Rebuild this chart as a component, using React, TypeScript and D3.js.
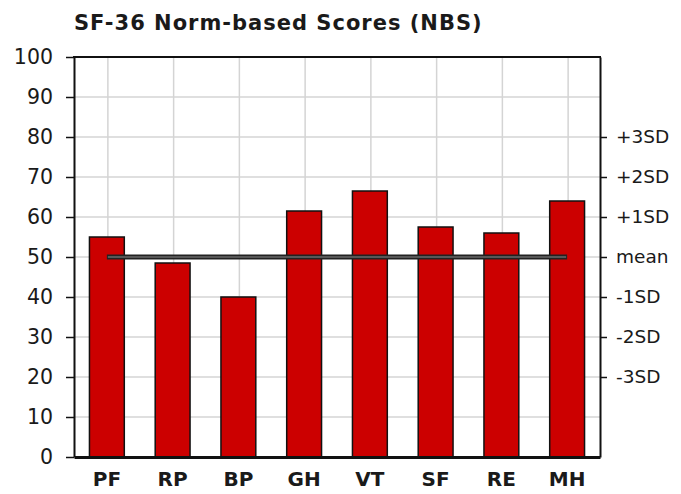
import * as d3 from "d3";
import { useRef, useEffect } from "react";

const categories = ["PF", "RP", "BP", "GH", "VT", "SF", "RE", "MH"];
const scores = [55, 48.5, 40, 61.5, 66.5, 57.5, 56, 64];
const leftTicks = [0, 10, 20, 30, 40, 50, 60, 70, 80, 90, 100];
const sdTicks = [20, 30, 40, 50, 60, 70, 80];
const sdLabels = ["-3SD", "-2SD", "-1SD", "mean", "+1SD", "+2SD", "+3SD"];
const meanValue = 50;
const title = "SF-36 Norm-based Scores (NBS)";

const App = () => {
  const container = useRef(null);

  useEffect(() => {
    createChart();
  });

  const createChart = () => {
    let node = container.current;

    let width = 681;
    let height = 494;
    let margins = { t: 57, b: 37, l: 74, r: 81 };
    let chartdims = {
      width: width - margins.l - margins.r,
      height: height - margins.t - margins.b,
    };
    let font = "'DejaVu Sans', Verdana, sans-serif";
    let textColor = "#1a1a1a";

    let svg = d3
      .select(node)
      .selectAll("svg")
      .data([0])
      .join("svg")
      .attr("width", width)
      .attr("height", height)
      .style("display", "block")
      .style("background", "#fff");

    svg.selectAll("*").remove();

    let xScale = d3
      .scaleBand()
      .domain(categories)
      .range([0, chartdims.width])
      .paddingInner(0.47)
      .paddingOuter(0.235);
    let yScale = d3.scaleLinear().domain([0, 100]).range([chartdims.height, 0]);

    let plotg = svg
      .append("g")
      .attr("transform", `translate(${margins.l},${margins.t})`);

    // grid
    plotg
      .selectAll(".hgrid")
      .data(leftTicks)
      .join("line")
      .attr("class", "hgrid")
      .attr("x1", 0)
      .attr("x2", chartdims.width)
      .attr("y1", (d) => yScale(d))
      .attr("y2", (d) => yScale(d))
      .attr("stroke", "#d4d4d4")
      .attr("stroke-width", 1.5);

    plotg
      .selectAll(".vgrid")
      .data(categories)
      .join("line")
      .attr("class", "vgrid")
      .attr("x1", (d) => xScale(d) + xScale.bandwidth() / 2 + 1)
      .attr("x2", (d) => xScale(d) + xScale.bandwidth() / 2 + 1)
      .attr("y1", 0)
      .attr("y2", chartdims.height)
      .attr("stroke", "#d4d4d4")
      .attr("stroke-width", 1.5);

    // bars
    plotg
      .selectAll(".bar")
      .data(scores)
      .join("rect")
      .attr("class", "bar")
      .attr("x", (d, i) => xScale(categories[i]))
      .attr("y", (d) => yScale(d))
      .attr("width", xScale.bandwidth())
      .attr("height", (d) => chartdims.height - yScale(d))
      .attr("fill", "#cc0000")
      .attr("stroke", "#111")
      .attr("stroke-width", 1.5);

    // mean line
    let meanX1 = xScale(categories[0]) + xScale.bandwidth() / 2;
    let meanX2 = xScale(categories[categories.length - 1]) + xScale.bandwidth() / 2;
    plotg
      .append("line")
      .attr("x1", meanX1)
      .attr("x2", meanX2)
      .attr("y1", yScale(meanValue))
      .attr("y2", yScale(meanValue))
      .attr("stroke", "#222")
      .attr("stroke-width", 5);
    plotg
      .append("line")
      .attr("x1", meanX1 + 1)
      .attr("x2", meanX2 - 1)
      .attr("y1", yScale(meanValue))
      .attr("y2", yScale(meanValue))
      .attr("stroke", "#6a6a6a")
      .attr("stroke-width", 1.5);

    // axes
    let yAxis = d3
      .axisLeft(yScale)
      .tickValues(leftTicks)
      .tickSize(8)
      .tickSizeOuter(0)
      .tickPadding(13);
    let yaxisg = plotg.append("g").call(yAxis);
    yaxisg.select(".domain").attr("stroke", "#111").attr("stroke-width", 2);
    yaxisg.selectAll(".tick line").attr("stroke", "#111").attr("stroke-width", 1.5);
    yaxisg
      .selectAll(".tick text")
      .attr("font-family", font)
      .attr("font-size", 20.5)
      .attr("fill", textColor);

    let sdAxis = d3
      .axisRight(yScale)
      .tickValues(sdTicks)
      .tickFormat((d, i) => sdLabels[i])
      .tickSize(7)
      .tickSizeOuter(0)
      .tickPadding(9);
    let sdaxisg = plotg
      .append("g")
      .attr("transform", `translate(${chartdims.width},0)`)
      .call(sdAxis);
    sdaxisg.select(".domain").attr("stroke", "#111").attr("stroke-width", 2);
    sdaxisg.selectAll(".tick line").attr("stroke", "#111").attr("stroke-width", 1.5);
    sdaxisg
      .selectAll(".tick text")
      .attr("font-family", font)
      .attr("font-size", 18.5)
      .attr("fill", textColor);

    let xAxis = d3.axisBottom(xScale).tickSize(0).tickSizeOuter(0).tickPadding(15);
    let xaxisg = plotg
      .append("g")
      .attr("transform", `translate(0,${chartdims.height})`)
      .call(xAxis);
    xaxisg.select(".domain").attr("stroke", "#111").attr("stroke-width", 3);
    xaxisg
      .selectAll(".tick text")
      .attr("font-family", font)
      .attr("font-size", 20)
      .attr("font-weight", "bold")
      .attr("fill", textColor);

    // top border
    plotg
      .append("line")
      .attr("x1", -1)
      .attr("x2", chartdims.width + 1)
      .attr("y1", 0)
      .attr("y2", 0)
      .attr("stroke", "#111")
      .attr("stroke-width", 2);

    // title
    svg
      .append("text")
      .attr("x", margins.l)
      .attr("y", 30)
      .attr("font-family", font)
      .attr("font-size", 21)
      .attr("font-weight", "bold")
      .attr("letter-spacing", 1)
      .attr("fill", textColor)
      .text(title);
  };

  return <div ref={container} style={{ width: 681, height: 494, margin: -8 }}></div>;
};

export default App;
